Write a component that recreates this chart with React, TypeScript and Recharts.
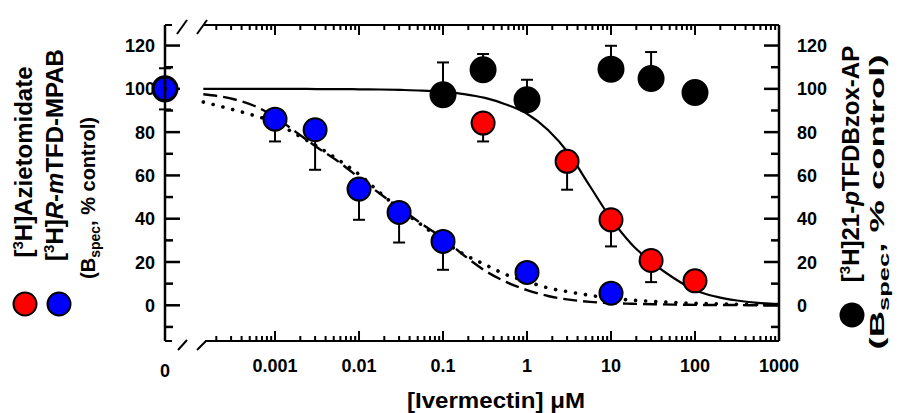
import React from 'react';
import { ComposedChart, Line, Scatter, XAxis, YAxis, ErrorBar } from 'recharts';

const W = 899;
const H = 413;
const PLOT = { left: 165, right: 779, top: 25, bottom: 341 };
const FONT = '"Liberation Sans", Arial, Helvetica, sans-serif';

// axis ranges
const X_MIN = 4.9e-5;
const X_MAX = 1000;
const Y_MIN = -16.5;
const Y_MAX = 129.5;

// tick labels
const X_MAJOR = [0.001, 0.01, 0.1, 1, 10, 100, 1000];
const X_MAJOR_LABELS = ['0.001', '0.01', '0.1', '1', '10', '100', '1000'];
const X_MINOR_DECADES = [0.0001, 0.001, 0.01, 0.1, 1, 10, 100];
const X_MINOR_STEPS = [2, 3, 4, 5, 6, 7, 8, 9];
const Y_MAJOR = [0, 20, 40, 60, 80, 100, 120];
const Y_MINOR = [-10, 10, 30, 50, 70, 90, 110];

const X_MINOR = X_MINOR_DECADES.flatMap((d) => X_MINOR_STEPS.map((k) => k * d));

// [3H]R-mTFD-MPAB (blue)
const mpabConc = [0.001, 0.003, 0.01, 0.03, 0.1, 1, 10];
const mpabPct = [86, 81.1, 53.7, 42.9, 29.5, 15.2, 5.6];
const mpabErr = [10.3, 18.5, 14.2, 13.9, 13.1, 0, 0];

// [3H]Azietomidate (red)
const azConc = [0.3, 3, 10, 30, 100];
const azPct = [84.2, 66.5, 39.5, 20.7, 11.3];
const azErr = [8.5, 13.1, 12.3, 10, 0];

// [3H]21-pTFDBzox-AP (black)
const bzConc = [0.1, 0.3, 1, 10, 30, 100];
const bzPct = [97.3, 108.8, 95, 109.1, 104.8, 98.3];
const bzErr = [14.9, 7.3, 9.2, 10.8, 12.2, 0];

// no-drug controls (plotted at 0)
const ctrlPct = 100;
const ctrlErr = 9.5;

// fitted curves
const fitConc = [
  0.00014, 0.000316, 0.000562, 0.001, 0.00178, 0.00316, 0.00562, 0.01, 0.0178, 0.0316,
  0.0562, 0.1, 0.178, 0.316, 0.562, 1, 1.78, 3.16, 5.62, 10, 17.8, 31.6, 56.2, 100, 178,
  316, 562, 1000,
];
const azFit = [
  100, 100, 100, 100, 100, 99.9, 99.9, 99.8, 99.7, 99.5, 99.2, 98.6, 97.6, 95.8, 92.8, 88.5,
  81, 70, 55, 40, 28, 19.5, 12.5, 7, 4, 2.2, 1.1, 0.5,
];
const mpabFitDashed = [
  97.5, 95.3, 92.2, 87, 80, 73, 66.5, 59, 51.5, 44.5, 37.5, 31, 23, 16, 10.8, 7, 4.3, 2.6,
  1.6, 1.0, 0.7, 0.5, 0.3, 0.2, 0.1, 0.1, 0, 0,
];
const mpabFitDotted = [
  93.9, 90.4, 87.7, 84.5, 79, 73.5, 67.3, 60.5, 52, 44, 37, 29.8, 23.5, 18.8, 14.2, 11, 8,
  6.2, 4.6, 3.2, 2.4, 1.8, 1.3, 0.9, 0.7, 0.5, 0.4, 0.3,
];

const pts = (xs: number[], ys: number[], errs?: number[], up = false) =>
  xs.map((x, i) => ({
    x,
    y: ys[i],
    err: errs ? (up ? [0, errs[i]] : [errs[i], 0]) : [0, 0],
  }));

const curve = (ys: number[]) => fitConc.map((x, i) => ({ x, y: ys[i] }));

const mpabData = pts(mpabConc, mpabPct, mpabErr);
const azData = pts(azConc, azPct, azErr);
const bzData = pts(bzConc, bzPct, bzErr, true);
const ctrlBlue = [{ x: 0, y: ctrlPct, err: [ctrlErr, ctrlErr] }];
const ctrlOther = [{ x: 0, y: ctrlPct, err: [0, 0] }];

// frame tick marks, placed through the chart's own scales
const xTicks = (y: number) => [
  ...X_MAJOR.map((x) => ({ x, y, len: 10 })),
  ...X_MINOR.map((x) => ({ x, y, len: 5 })),
];
const yTicks = (x: number) => [
  ...Y_MAJOR.map((y) => ({ x, y, len: 15 })),
  ...Y_MINOR.map((y) => ({ x, y, len: 8 })),
];
const bottomTicks = xTicks(Y_MIN);
const topTicks = xTicks(Y_MAX);
const leftTicks = yTicks(0);
const rightTicks = yTicks(1);

const lenOf = (p: any) => (p.payload && p.payload.len) || p.len || 0;
const upTick = (p: any) => <rect x={p.cx - 1} y={p.cy - lenOf(p)} width={2} height={lenOf(p)} fill="#000" />;
const downTick = (p: any) => <rect x={p.cx - 1} y={p.cy} width={2} height={lenOf(p)} fill="#000" />;
const rightwardTick = (p: any) => <rect x={p.cx} y={p.cy - 1.25} width={lenOf(p)} height={2.5} fill="#000" />;
const leftwardTick = (p: any) => <rect x={p.cx - lenOf(p)} y={p.cy - 1.25} width={lenOf(p)} height={2.5} fill="#000" />;

const txt = { fontFamily: FONT, fontWeight: 700, fill: '#000' } as const;

const BottomLabel = (p: any) => {
  const i = X_MAJOR.indexOf(p.payload.value);
  return (
    <text {...txt} x={p.x} y={PLOT.bottom + 31} textAnchor="middle" fontSize={18}>
      {X_MAJOR_LABELS[i]}
    </text>
  );
};

const ZeroLabel = (p: any) => (
  <text {...txt} x={p.x} y={PLOT.bottom + 36} textAnchor="middle" fontSize={18}>
    0
  </text>
);

const LeftLabel = (p: any) => (
  <text {...txt} x={PLOT.left - 10} y={p.y + 6.5} textAnchor="end" fontSize={18}>
    {p.payload.value}
  </text>
);

const RightLabel = (p: any) => (
  <text {...txt} x={PLOT.right + 18} y={p.y + 6.5} textAnchor="start" fontSize={18}>
    {p.payload.value}
  </text>
);

const dot = (fill: string, r: number, centre = false) => (p: any) => (
  <g>
    <circle cx={p.cx} cy={p.cy} r={r} fill={fill} stroke="#000" strokeWidth={2} />
    {centre && <circle cx={p.cx} cy={p.cy} r={2} fill="#000" />}
  </g>
);

const Overlay = () => {
  const { left: L, right: R, top: T, bottom: B } = PLOT;
  return (
    <svg width={W} height={H} style={{ position: 'absolute', left: 0, top: 0, pointerEvents: 'none' }}>
      <g stroke="#000" strokeWidth={2} fill="none">
        <line x1={L} x2={L} y1={T} y2={B} strokeWidth={2.5} />
        <line x1={R} x2={R} y1={T} y2={B} strokeWidth={2.5} />
        <line x1={L} x2={172} y1={B} y2={B} />
        <line x1={178} y1={B + 9} x2={187} y2={B - 1} />
        <line x1={197} y1={B + 9} x2={206} y2={B} />
        <line x1={205} x2={R} y1={B} y2={B} />
        <line x1={L} x2={172} y1={T} y2={T} />
        <line x1={177} y1={T + 9} x2={187} y2={T - 5} />
        <line x1={197} y1={T + 9} x2={207} y2={T - 5} />
        <line x1={203} x2={R} y1={T} y2={T} />
      </g>

      {/* left title */}
      <text {...txt} fontSize={24} textAnchor="middle" transform="translate(32,162) rotate(-90)">
        [<tspan fontSize={15} dy={-9}>3</tspan>
        <tspan dy={9}>H]Azietomidate</tspan>
      </text>
      <text {...txt} fontSize={24} textAnchor="middle" transform="translate(63,155) rotate(-90)">
        [<tspan fontSize={15} dy={-9}>3</tspan>
        <tspan dy={9}>H]</tspan>
        <tspan fontStyle="italic">R</tspan>-<tspan fontStyle="italic">m</tspan>TFD-MPAB
      </text>
      <text {...txt} fontSize={20} textAnchor="middle" transform="translate(95,198) rotate(-90)">
        (B<tspan fontSize={14} dy={5}>spec</tspan>
        <tspan dy={-5}>, % control)</tspan>
      </text>

      {/* right title */}
      <text {...txt} fontSize={24} textAnchor="middle" transform="translate(859,164) rotate(-90)">
        [<tspan fontSize={15} dy={-9}>3</tspan>
        <tspan dy={9}>H]21-</tspan>
        <tspan fontStyle="italic">p</tspan>TFDBzox-AP
      </text>
      <text {...txt} fontSize={20} textAnchor="middle" transform="translate(884,202) rotate(-90)"
        textLength={295} lengthAdjust="spacingAndGlyphs">
        (B<tspan fontSize={14} dy={5}>spec</tspan>
        <tspan dy={-5}>,   % control)</tspan>
      </text>

      {/* legend symbols */}
      <circle cx={25} cy={304} r={11.5} fill="#ff0000" stroke="#000" strokeWidth={2} />
      <circle cx={59} cy={304} r={11.5} fill="#0000ff" stroke="#000" strokeWidth={2} />
      <circle cx={852} cy={315} r={12.5} fill="#000" />

      {/* x title */}
      <text {...txt} fontSize={22} textAnchor="middle" x={496} y={408} textLength={178} lengthAdjust="spacingAndGlyphs">
        [Ivermectin] μM
      </text>
    </svg>
  );
};

const logAxis = {
  dataKey: 'x',
  type: 'number' as const,
  scale: 'log' as const,
  domain: [X_MIN, X_MAX],
  allowDataOverflow: true,
  interval: 0,
  height: 1,
  tickSize: 0,
  tickMargin: 0,
  axisLine: false,
  tickLine: false,
};

const yAxis = {
  dataKey: 'y',
  type: 'number' as const,
  domain: [Y_MIN, Y_MAX],
  ticks: Y_MAJOR,
  interval: 0,
  width: 1,
  tickSize: 0,
  tickMargin: 0,
  axisLine: false,
  tickLine: false,
};

export default function App() {
  return (
    <div style={{ position: 'absolute', left: 0, top: 0, width: W, height: H, background: '#fff' }}>
      <ComposedChart width={W} height={H}
        margin={{ top: PLOT.top - 1, right: W - PLOT.right - 1, bottom: H - PLOT.bottom - 2, left: PLOT.left - 1 }}>
        <XAxis xAxisId="log" {...logAxis} ticks={X_MAJOR} tick={BottomLabel} />
        <XAxis xAxisId="ctrl" dataKey="x" type="number" domain={[0, 1]} ticks={[0]} interval={0} height={1}
          tickSize={0} tickMargin={0} axisLine={false} tickLine={false} tick={ZeroLabel} />
        <XAxis xAxisId="top" orientation="top" {...logAxis} ticks={X_MAJOR} tick={false} />
        <YAxis yAxisId="l" {...yAxis} tick={LeftLabel} />
        <YAxis yAxisId="r" orientation="right" {...yAxis} tick={RightLabel} />

        {/* frame ticks as marks on the chart scales */}
        <Scatter xAxisId="log" yAxisId="l" data={bottomTicks} shape={upTick} isAnimationActive={false} />
        <Scatter xAxisId="log" yAxisId="l" data={topTicks} shape={downTick} isAnimationActive={false} />
        <Scatter xAxisId="ctrl" yAxisId="l" data={leftTicks} shape={rightwardTick} isAnimationActive={false} />
        <Scatter xAxisId="ctrl" yAxisId="r" data={rightTicks} shape={leftwardTick} isAnimationActive={false} />

        <Line xAxisId="log" yAxisId="l" data={curve(azFit)} dataKey="y" type="monotone" stroke="#000" strokeWidth={2.2}
          dot={false} activeDot={false} isAnimationActive={false} />
        <Line xAxisId="log" yAxisId="l" data={curve(mpabFitDashed)} dataKey="y" type="monotone" stroke="#000" strokeWidth={2.4}
          strokeDasharray="14 6" dot={false} activeDot={false} isAnimationActive={false} />

        <Scatter xAxisId="log" yAxisId="r" data={bzData} shape={dot('#000', 12.5)} isAnimationActive={false}>
          <ErrorBar dataKey="err" direction="y" width={6} stroke="#000" strokeWidth={2} />
        </Scatter>
        <Scatter xAxisId="log" yAxisId="l" data={azData} shape={dot('#ff0000', 11.5)} isAnimationActive={false}>
          <ErrorBar dataKey="err" direction="y" width={6} stroke="#000" strokeWidth={2} />
        </Scatter>
        <Scatter xAxisId="log" yAxisId="l" data={mpabData} shape={dot('#0000ff', 11.5)} isAnimationActive={false}>
          <ErrorBar dataKey="err" direction="y" width={6} stroke="#000" strokeWidth={2} />
        </Scatter>
        <Scatter xAxisId="ctrl" yAxisId="r" data={ctrlOther} shape={dot('#000', 12.5)} isAnimationActive={false} />
        <Scatter xAxisId="ctrl" yAxisId="l" data={ctrlOther} shape={dot('#ff0000', 11.5)} isAnimationActive={false} />
        <Scatter xAxisId="ctrl" yAxisId="l" data={ctrlBlue} shape={dot('#0000ff', 11.5, true)} isAnimationActive={false}>
          <ErrorBar dataKey="err" direction="y" width={6} stroke="#000" strokeWidth={2} />
        </Scatter>

        <Line xAxisId="log" yAxisId="l" data={curve(mpabFitDotted)} dataKey="y" type="monotone" stroke="#000" strokeWidth={3.6}
          strokeLinecap="round" strokeDasharray="0.1 10" dot={false} activeDot={false} isAnimationActive={false} />
      </ComposedChart>
      <Overlay />
    </div>
  );
}
